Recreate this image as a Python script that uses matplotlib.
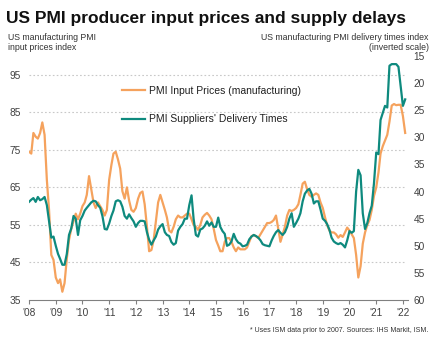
import numpy as np
import pandas as pd
import matplotlib
matplotlib.use("Agg")
import matplotlib.pyplot as plt

# monthly readings, Jan 2008 onwards
input_prices = [
    74.5, 74.0, 79.5, 78.5, 78.0, 79.5, 82.3, 79.0, 67.0, 59.0, 47.0, 45.7,
    41.0, 39.5, 40.5, 37.2, 39.5, 46.0, 51.0, 54.0, 56.0, 58.0, 56.5, 58.0,
    60.0, 61.0, 63.0, 68.0, 64.5, 61.0, 59.5, 61.0, 60.0, 59.0, 57.5, 59.0,
    67.0, 71.0, 74.0, 74.5, 72.5, 70.0, 64.0, 62.0, 65.0, 61.5, 59.0, 58.5,
    59.5, 62.0, 63.5, 63.9, 60.5, 54.5, 48.0, 48.3, 51.0, 56.0, 61.0, 63.0,
    61.0, 59.0, 57.0, 53.5, 53.0, 54.5, 56.5, 57.5, 57.0, 57.0, 57.5, 58.0,
    58.0, 56.5, 55.0, 54.5, 53.7, 55.0, 57.0, 57.7, 58.2, 57.5, 56.5, 54.0,
    51.0, 49.5, 48.0, 48.0, 50.5, 51.5, 51.5, 50.5, 49.0, 48.0, 49.0, 48.5,
    48.5, 48.5, 49.0, 50.5, 52.0, 52.3, 52.0, 51.5, 52.5, 53.5, 54.5, 55.5,
    55.5, 55.8, 56.3, 57.5, 54.0, 50.5, 52.5, 54.5, 57.5, 59.0, 58.7, 59.0,
    59.5, 60.5, 63.0, 66.0, 66.5, 64.5, 63.0, 62.5, 63.0, 63.4, 63.0, 61.0,
    59.5, 57.0, 55.0, 53.5, 53.0, 53.0, 52.5, 51.6, 52.3, 51.8, 53.0, 54.3,
    53.5, 52.5, 51.5, 47.0, 41.0, 44.0, 50.0, 53.0, 55.0, 56.3, 59.0, 62.7,
    65.0, 69.0, 74.0, 76.0, 77.5, 79.0, 82.5, 86.8, 87.2, 86.9, 87.0, 87.0,
    84.0, 79.5,
]

delivery_times = [
    41.9, 41.5, 41.2, 41.9, 41.0, 41.6, 41.4, 41.0, 42.5, 45.5, 48.5, 48.3,
    50.0, 51.5, 52.4, 53.5, 53.5, 51.5, 48.0, 46.8, 44.5, 45.0, 48.0, 45.3,
    44.5, 43.5, 43.0, 42.5, 42.0, 41.7, 41.8, 42.5, 43.0, 44.5, 46.9, 47.0,
    45.9, 44.5, 43.5, 41.8, 41.6, 41.8, 42.8, 44.5, 45.0, 44.2, 44.9, 45.5,
    46.5, 45.8, 45.4, 45.4, 45.5, 47.5, 48.9, 49.8, 49.0, 48.3, 47.0, 46.4,
    46.0, 47.5, 48.0, 48.2, 49.3, 49.8, 49.5, 47.2, 46.5, 46.0, 45.0, 45.0,
    42.5, 40.7, 45.0, 48.0, 48.3, 47.0, 46.8, 46.3, 45.5, 46.3, 45.7, 46.5,
    46.5, 44.8, 46.5, 47.3, 47.8, 50.0, 49.8, 49.2, 47.8, 48.8, 49.4, 49.6,
    50.1, 50.0, 49.8, 48.8, 48.3, 48.0, 48.2, 48.5, 49.0, 49.7, 49.9, 50.0,
    50.1, 49.0, 48.2, 47.5, 47.1, 47.6, 48.0, 47.5, 46.5, 45.0, 44.0, 46.5,
    45.8, 45.0, 44.0, 41.8, 40.4, 39.8, 39.5, 40.4, 42.2, 41.8, 41.8, 43.3,
    45.0, 45.4, 46.0, 47.0, 48.5, 49.2, 49.5, 49.7, 49.5, 49.8, 50.3, 49.0,
    47.3, 47.6, 47.3, 40.0, 36.0, 37.0, 44.0, 46.9, 45.8, 44.0, 42.6, 38.5,
    32.8, 33.1, 26.8, 25.5, 24.2, 24.5, 16.8, 16.5, 16.5, 16.5, 17.0, 20.5,
    24.2, 23.0,
]

years = list(range(2008, 2023))
year_labels = ["'" + str(y)[2:] for y in years]

orange = "#F5A25D"
teal = "#0E8A7E"
grey = "#404040"

dates = pd.date_range("2008-01-01", periods=len(input_prices), freq="MS")

plt.rcParams["font.family"] = ["Liberation Sans", "DejaVu Sans"]

fig = plt.figure(figsize=(4.33, 3.45), dpi=100)
ax = fig.add_axes([0.067, 0.1304, 0.875, 0.7073])
ax2 = ax.twinx()

l1, = ax.plot(dates, input_prices, color=orange, lw=1.6,
              label="PMI Input Prices (manufacturing)")
l2, = ax2.plot(dates, delivery_times, color=teal, lw=1.6,
               label="PMI Suppliers' Delivery Times")

ax.set_ylim(35, 100)
ax.set_yticks(range(35, 100, 10))
ax2.set_ylim(60, 15)
ax2.set_yticks(range(15, 61, 5))

ax.set_xlim(pd.Timestamp("2008-01-01"), pd.Timestamp("2022-03-10"))
ax.set_xticks([pd.Timestamp(f"{y}-01-01") for y in years])
ax.set_xticklabels(year_labels)

for gy in range(45, 100, 10):
    ax.axhline(gy, color="#c8c8c8", lw=0.8, ls=(0, (1.5, 2)), zorder=0,
               xmax=0.99)

for a in (ax, ax2):
    for s in ("top", "left", "right", "bottom"):
        a.spines[s].set_visible(False)
ax.spines["bottom"].set_visible(True)
ax.spines["bottom"].set_color("#808080")
ax.spines["bottom"].set_linewidth(0.8)

ax.tick_params(axis="y", length=0, labelsize=7.3, labelcolor=grey, pad=6)
ax2.tick_params(axis="y", length=0, labelsize=7.3, labelcolor=grey, pad=4)
ax.tick_params(axis="x", length=3, color="#808080", labelsize=7.3,
               labelcolor=grey, pad=3)

leg = ax.legend(handles=[l1, l2], loc="upper left",
                bbox_to_anchor=(0.222, 0.915), frameon=False, fontsize=7.5,
                handlelength=2.2, handletextpad=0.3, labelspacing=1.75)
for t in leg.get_texts():
    t.set_color("#202020")

fig.text(0.014, 0.945, "US PMI producer input prices and supply delays",
         fontsize=12.5, fontweight="bold", va="center", ha="left",
         color="#111111")
fig.text(0.018, 0.877, "US manufacturing PMI\ninput prices index",
         fontsize=6.3, va="center", ha="left", color="#333333",
         linespacing=1.15)
fig.text(0.99, 0.877, "US manufacturing PMI delivery times index\n(inverted scale)",
         fontsize=6.3, va="center", ha="right", color="#333333",
         linespacing=1.1, multialignment="right")
fig.text(0.99, 0.043, "* Uses ISM data prior to 2007. Sources: IHS Markit, ISM.",
         fontsize=5.0, va="center", ha="right", color="#333333")

fig.savefig("out.png", dpi=100)
